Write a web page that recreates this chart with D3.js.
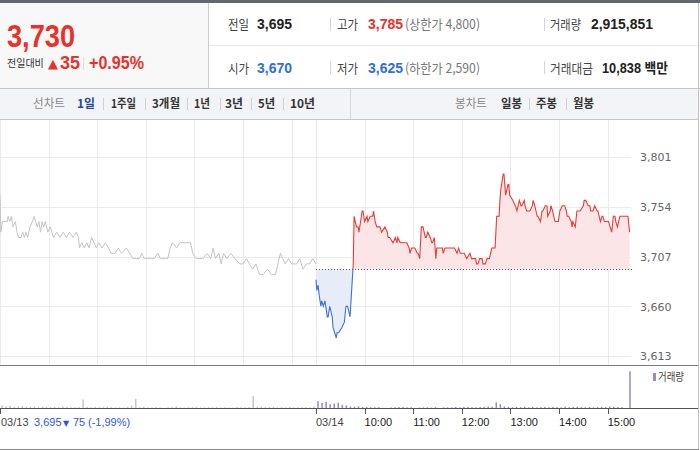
<!DOCTYPE html>
<html><head><meta charset="utf-8">
<script src="https://cdn.jsdelivr.net/npm/d3@7"></script>
<style>
html,body{margin:0;padding:0;background:#fff;}
svg{display:block;font-family:"Liberation Sans","Noto Sans CJK KR",sans-serif;}
</style></head>
<body><svg id="c" width="700" height="450"></svg>
<script>
// ---------- data ----------
const prevClose = 3695;
const yTicks = [3613, 3660, 3707, 3754, 3801];
const hourLabels = ["10:00", "11:00", "12:00", "13:00", "14:00", "15:00"];
const hourMinutes = [60, 120, 180, 240, 300, 360];

// previous session (03/13) minutes since 09:00 and price
const prevMinutes = [0,1,3,9,10,12,14,16,19,21,23,26,28,30,32,34,37,40,42,44,46,48,50,52,54,56,59,62,64,66,70,74,78,82,86,90,94,97,98,101,104,107,110,113,116,119,122,126,130,134,137,142,146,150,156,160,164,172,175,178,190,195,198,207,210,213,218,222,228,235,238,242,250,256,260,263,266,270,273,276,280,285,290,296,300,304,308,312,316,320,325,330,335,340,343,346,349,352,356,360,366,370,374,378,382,386,390];
const prevPrices  = [3765,3730,3740,3740,3745,3740,3745,3735,3740,3730,3725,3725,3730,3725,3730,3725,3735,3740,3745,3740,3735,3740,3730,3740,3735,3740,3730,3735,3730,3725,3730,3725,3730,3725,3730,3725,3730,3725,3715,3720,3715,3720,3715,3725,3720,3715,3720,3715,3720,3715,3710,3710,3715,3710,3715,3710,3705,3705,3710,3705,3705,3710,3705,3705,3715,3720,3715,3720,3720,3720,3710,3705,3705,3710,3705,3715,3705,3710,3700,3710,3705,3710,3705,3700,3700,3705,3700,3695,3700,3690,3690,3695,3690,3690,3700,3710,3705,3700,3705,3700,3700,3705,3695,3700,3700,3705,3700];

// current session (03/14) minutes since 09:00 and price
const todayMinutes = [0,1,2.5,4,6,7,9,11,14,15,17,20,21,23,25,26,28,32,35,37,39,42,44,46,47,50,52,53,56,57,58,60,63,64,67,70,71,73,75,79,81,85,88,89,91,95,98,100,101,104,112,115,116,118,120,122,125,126,128,130,132,135,136,138,141,143,144,146,147,148,149,153,156,157,159,163,169,171,174,176,178,180,183,186,190,192,193,197,198,200,202,205,206,209,211,214,217,221,222,223,226,227,228,231,232,234,237,238,239,243,246,248,251,253,254,257,258,260,264,267,268,270,273,274,277,279,280,283,285,286,289,290,292,295,299,301,304,305,307,309,310,312,315,316,317,320,322,326,330,331,333,336,338,339,342,344,347,348,351,353,354,356,358,361,363,365,367,369,370,372,375,376,385,387];
const todayPrices  = [3685,3675,3680,3670,3660,3665,3660,3665,3650,3650,3660,3650,3640,3635,3630,3635,3635,3640,3645,3660,3660,3650,3675,3700,3745,3735,3735,3730,3745,3750,3750,3740,3745,3740,3745,3745,3750,3740,3735,3735,3730,3735,3730,3725,3725,3720,3725,3720,3725,3720,3720,3715,3710,3715,3715,3715,3710,3710,3705,3735,3735,3725,3725,3730,3725,3720,3720,3725,3715,3705,3715,3715,3715,3710,3715,3715,3715,3715,3710,3715,3710,3710,3710,3705,3710,3705,3705,3705,3700,3700,3705,3705,3700,3700,3705,3705,3715,3715,3730,3745,3745,3760,3770,3785,3785,3765,3775,3775,3765,3760,3755,3750,3760,3755,3755,3760,3755,3750,3750,3755,3760,3755,3745,3745,3740,3750,3750,3755,3755,3745,3750,3755,3750,3740,3740,3750,3755,3755,3755,3750,3745,3745,3740,3735,3740,3735,3750,3750,3755,3760,3760,3755,3755,3750,3750,3755,3750,3750,3740,3745,3745,3740,3740,3740,3735,3730,3745,3745,3740,3735,3745,3745,3745,3730];

// volume in 5-minute buckets
const prevVolume = [22000,14000,18000,9000,12000,16000,8000,11000,13000,7000,9000,10000,6000,8000,7000,12000,9000,6000,5000,7000,68000,8000,6000,9000,5000,6000,11000,7000,5000,6000,4000,9000,18000,72000,6000,12000,5000,4000,7000,5000,0,6000,8000,14000,5000,4000,6000,7000,9000,4000,5000,6000,5000,7000,4000,6000,5000,4000,8000,5000,6000,7000,95000,9000,12000,6000,8000,10000,5000,7000,6000,9000,5000,7000,6000,8000,5000,12000];
const todayVolume = [55000,40000,48000,30000,35000,42000,25000,20000,12000,10000,14000,8000,9000,6000,5000,7000,0,0,4000,6000,8000,9000,5000,6000,0,4000,5000,6000,4000,7000,0,5000,6000,4000,8000,5000,9000,10000,7000,6000,8000,9000,12000,10000,45000,30000,12000,8000,6000,9000,7000,10000,6000,8000,5000,7000,9000,6000,8000,7000,5000,10000,6000,8000,12000,7000,6000,9000,5000,8000,10000,7000,12000,9000,8000,6000,0,290000];

// ---------- drawing ----------
const svg = d3.select("#c");
const KR = '"Noto Sans CJK KR","Liberation Sans",sans-serif';
const DJ = "'DejaVu Sans',sans-serif";
const LS = "'Liberation Sans',sans-serif";

// header
svg.append("rect").attr("x",0).attr("y",0).attr("width",700).attr("height",3).attr("fill","#63676c");
svg.append("rect").attr("x",0).attr("y",3).attr("width",208).attr("height",85).attr("fill","#f8f8f8");
svg.append("line").attr("x1",208.5).attr("x2",208.5).attr("y1",3).attr("y2",88).attr("stroke","#cfcfcf");
svg.append("line").attr("x1",209).attr("x2",698).attr("y1",45.5).attr("y2",45.5).attr("stroke","#e6e6e6");
svg.append("line").attr("x1",0).attr("x2",700).attr("y1",88.5).attr("y2",88.5).attr("stroke","#c6c6c6");
svg.append("line").attr("x1",698.5).attr("x2",698.5).attr("y1",3).attr("y2",449).attr("stroke","#c0c0c0");

function txt(x,y,s,o){
  const t = svg.append("text").attr("x",x).attr("y",y).text(s)
    .attr("font-size",o.size||13).attr("fill",o.fill||"#333")
    .attr("font-weight",o.bold?"bold":"normal");
  if(o.kr) t.attr("font-family",KR);
  if(o.ff) t.attr("font-family",o.ff);
  if(o.len) t.attr("textLength",o.len).attr("lengthAdjust","spacingAndGlyphs");
  if(o.anchor) t.attr("text-anchor",o.anchor);
  return t;
}
const RED="#e8312b", BLUE="#2f6fdc";
txt(7,47,"3,730",{size:32,fill:RED,bold:true,len:68});
txt(7,67,"전일대비",{size:10,fill:"#333",kr:true});
txt(48,68,"▲",{size:13,fill:RED,ff:DJ});
txt(60,69,"35",{size:18,fill:RED,bold:true});
svg.append("line").attr("x1",83.5).attr("x2",83.5).attr("y1",57).attr("y2",70).attr("stroke","#ddd");
txt(89,69,"+0.95%",{size:18,fill:RED,bold:true,len:55});

// row 1
txt(228,29,"전일",{size:13,fill:"#444",kr:true,len:21});
txt(257,29,"3,695",{size:14,fill:"#222",bold:true,len:35});
txt(337,29,"고가",{size:13,fill:"#444",kr:true,len:21});
txt(368,29,"3,785",{size:14,fill:RED,bold:true,len:35});
txt(405,29,"(상한가 4,800)",{size:13,fill:"#777",kr:true,len:75});
txt(550,29,"거래량",{size:13,fill:"#444",kr:true,len:31});
txt(591,29,"2,915,851",{size:14,fill:"#222",bold:true,len:62});
// row 2
txt(228,73,"시가",{size:13,fill:"#444",kr:true,len:21});
txt(257,73,"3,670",{size:14,fill:BLUE,bold:true,len:35});
txt(337,73,"저가",{size:13,fill:"#444",kr:true,len:21});
txt(368,73,"3,625",{size:14,fill:BLUE,bold:true,len:35});
txt(405,73,"(하한가 2,590)",{size:13,fill:"#777",kr:true,len:75});
txt(550,73,"거래대금",{size:13,fill:"#444",kr:true,len:43});
txt(602,73,"10,838 백만",{size:14,fill:"#222",bold:true,len:66});
[[330.5,18,31],[544.5,18,31],[330.5,61,74],[544.5,61,74]].forEach(d=>{
  svg.append("line").attr("x1",d[0]).attr("x2",d[0]).attr("y1",d[1]).attr("y2",d[2]).attr("stroke","#d5d5d5");
});

// nav bar
svg.append("rect").attr("x",0).attr("y",89).attr("width",698).attr("height",30).attr("fill","#f3f4f8");
svg.append("line").attr("x1",0).attr("x2",699).attr("y1",119.5).attr("y2",119.5).attr("stroke","#c6c6c6");
svg.append("line").attr("x1",350.5).attr("x2",350.5).attr("y1",89).attr("y2",119).attr("stroke","#d6d6d6");
const navLeft = [["1일",77,18,"#27469c"],["1주일",111,25,"#333"],["3개월",152,28,"#333"],["1년",194,16,"#333"],["3년",225,18,"#333"],["5년",258,17,"#333"],["10년",290,25,"#333"]];
txt(33,108,"선차트",{size:12,fill:"#888",kr:true,len:32});
navLeft.forEach(d=>txt(d[1],108,d[0],{size:12,fill:d[3],bold:true,kr:true,len:d[2]}));
[103,145,187,220,251,283].forEach(x=>svg.append("line").attr("x1",x+.5).attr("x2",x+.5).attr("y1",98).attr("y2",110).attr("stroke","#d0d0d0"));
txt(455,108,"봉차트",{size:12,fill:"#888",kr:true,len:32});
[["일봉",501],["주봉",536],["월봉",573]].forEach(d=>txt(d[1],108,d[0],{size:12,fill:"#333",bold:true,kr:true,len:21}));
[529,566].forEach(x=>svg.append("line").attr("x1",x+.5).attr("x2",x+.5).attr("y1",98).attr("y2",110).attr("stroke","#d0d0d0"));

// scales
const x = d3.scaleLinear().domain([0,780]).range([0,632]);
const y = d3.scaleLinear().domain([3613,3801]).range([356,157]);
const yVol = d3.scaleLinear().domain([0,300000]).range([408,370]);

// grid
const g = svg.append("g");
yTicks.forEach(v=>{
  g.append("line").attr("x1",0).attr("x2",631).attr("y1",Math.round(y(v))+.5).attr("y2",Math.round(y(v))+.5).attr("stroke","#ebebeb");
});
const vGrid = [0].concat(hourMinutes, [390], hourMinutes.map(m=>m+390));
vGrid.forEach(m=>{
  const xx = Math.max(0.5, Math.round(x(m))+.5);
  g.append("line").attr("x1",xx).attr("x2",xx).attr("y1",120).attr("y2",365).attr("stroke","#ebebeb");
});
// y axis labels
const yAxis = d3.axisRight(y).tickValues(yTicks).tickSize(0).tickPadding(0).tickFormat(d3.format(","));
const ya = svg.append("g").attr("transform","translate(640,0)").call(yAxis);
ya.select(".domain").remove();
ya.selectAll("text").attr("fill","#666").attr("font-size",11).attr("font-family",DJ).attr("dy","0.35em");

// previous day line
const prevData = prevMinutes.map((m,i)=>({m:m,p:prevPrices[i]}));
const todayData = todayMinutes.map((m,i)=>({m:m+390,p:todayPrices[i]}));
const line = d3.line().x(d=>x(d.m)).y(d=>y(d.p));
svg.append("path").datum(prevData).attr("d",line).attr("fill","none").attr("stroke","#c4c4c4").attr("stroke-width",1);

// clips
const base = y(prevClose);
const defs = svg.append("defs");
defs.append("clipPath").attr("id","up").append("rect").attr("x",0).attr("y",120).attr("width",700).attr("height",base-120);
defs.append("clipPath").attr("id","dn").append("rect").attr("x",0).attr("y",base).attr("width",700).attr("height",365-base);
const area = d3.area().x(d=>x(d.m)).y0(base).y1(d=>y(d.p));
svg.append("path").datum(todayData).attr("d",area).attr("fill","#fbe5e6").attr("clip-path","url(#up)");
svg.append("path").datum(todayData).attr("d",area).attr("fill","#e6edf8").attr("clip-path","url(#dn)");
svg.append("line").attr("x1",x(390)).attr("x2",x(780)).attr("y1",Math.round(base)+.5).attr("y2",Math.round(base)+.5)
  .attr("stroke","#555").attr("stroke-dasharray","1,2");
svg.append("path").datum(todayData).attr("d",line).attr("fill","none").attr("stroke","#ec3b35").attr("stroke-width",1.1).attr("clip-path","url(#up)");
svg.append("path").datum(todayData).attr("d",line).attr("fill","none").attr("stroke","#3a72d8").attr("stroke-width",1.1).attr("clip-path","url(#dn)");

// separator
svg.append("line").attr("x1",0).attr("x2",698).attr("y1",365.5).attr("y2",365.5).attr("stroke","#7a7a7a");

// volume
svg.append("g").selectAll("rect").data(prevVolume).join("rect")
  .attr("x",(d,i)=>x(i*5+2.5)-0.75).attr("width",1.5)
  .attr("y",d=>yVol(d)).attr("height",d=>408-yVol(d)).attr("fill","#c6c6c6");
svg.append("g").selectAll("rect").data(todayVolume).join("rect")
  .attr("x",(d,i)=>x(390+i*5+2.5)-0.75).attr("width",1.5)
  .attr("y",d=>yVol(d)).attr("height",d=>408-yVol(d)).attr("fill","#9a88cc");
svg.append("rect").attr("x",653).attr("y",373).attr("width",3).attr("height",8).attr("fill","#9a88cc");
txt(658,381,"거래량",{size:11,fill:"#444",kr:true,len:26});

// x axis
svg.append("line").attr("x1",0).attr("x2",698).attr("y1",408.5).attr("y2",408.5).attr("stroke","#555");
const tickMins = [0,390].concat(hourMinutes.map(m=>m+390));
tickMins.forEach(m=>{
  const xx = Math.max(0.5, Math.round(x(m))+.5);
  svg.append("line").attr("x1",xx).attr("x2",xx).attr("y1",408).attr("y2",414).attr("stroke","#555");
});
function axText(xx,s,fill,size,ff){
  return svg.append("text").attr("x",xx).attr("y",426).text(s).attr("font-size",size||11)
    .attr("fill",fill).attr("font-family",ff||LS);
}
axText(1,"03/13","#444");
axText(34,"3,695","#2a5bd7");
axText(63,"▼","#2a5bd7",8,DJ);
axText(73,"75","#2a5bd7");
axText(88,"(-1,99%)","#2a5bd7");
axText(x(390),"03/14","#444");
hourLabels.forEach((s,i)=>axText(x(hourMinutes[i]+390),s,"#222"));

// bottom border
svg.append("line").attr("x1",0).attr("x2",699).attr("y1",449.5).attr("y2",449.5).attr("stroke","#8a8a8a");
</script></body></html>
